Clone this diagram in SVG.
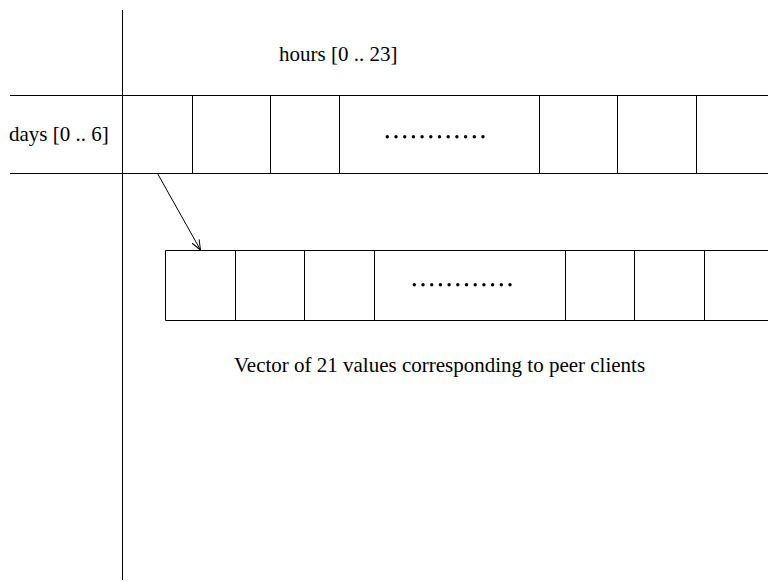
<svg xmlns="http://www.w3.org/2000/svg" width="768" height="581" viewBox="0 0 768 581">
  <defs>
    <style>
      .ln { stroke: #000; stroke-width: 1; fill: none; }
      .txt { font-family: "Liberation Serif", "Times New Roman", serif; font-size: 21px; fill: #000; }
    </style>
    <marker id="open-arrow" markerWidth="12" markerHeight="12" refX="11" refY="6" orient="auto" markerUnits="userSpaceOnUse">
      <path d="M1,2 L11,6 L1,10" fill="none" stroke="#000" stroke-width="1"/>
    </marker>
  </defs>
  <rect width="768" height="581" fill="#fff"/>

  <!-- axis -->
  <g id="axis">
    <line class="ln" x1="122.5" y1="10" x2="122.5" y2="580"/>
    <line class="ln" x1="17" y1="173.5" x2="27" y2="173.5"/>
  </g>

  <g id="hours-label">
    <text class="txt" x="279" y="61">hours [0 .. 23]</text>
  </g>

  <g id="days-label">
    <text class="txt" x="9" y="141">days [0 .. 6]</text>
  </g>

  <!-- day x hour table row -->
  <g id="hour-row">
    <line class="ln" x1="10" y1="95.5" x2="768" y2="95.5"/>
    <line class="ln" x1="10" y1="173.5" x2="768" y2="173.5"/>
    <line class="ln" x1="192.5" y1="95.5" x2="192.5" y2="173.5"/>
    <line class="ln" x1="270.5" y1="95.5" x2="270.5" y2="173.5"/>
    <line class="ln" x1="339.5" y1="95.5" x2="339.5" y2="173.5"/>
    <line class="ln" x1="539.5" y1="95.5" x2="539.5" y2="173.5"/>
    <line class="ln" x1="617.5" y1="95.5" x2="617.5" y2="173.5"/>
    <line class="ln" x1="696.5" y1="95.5" x2="696.5" y2="173.5"/>
    <g fill="#000">
      <circle cx="387.3" cy="136.7" r="1.7"/><circle cx="396" cy="136.7" r="1.7"/>
      <circle cx="404.7" cy="136.7" r="1.7"/><circle cx="413.4" cy="136.7" r="1.7"/>
      <circle cx="422.1" cy="136.7" r="1.7"/><circle cx="430.8" cy="136.7" r="1.7"/>
      <circle cx="439.5" cy="136.7" r="1.7"/><circle cx="448.2" cy="136.7" r="1.7"/>
      <circle cx="456.9" cy="136.7" r="1.7"/><circle cx="465.6" cy="136.7" r="1.7"/>
      <circle cx="474.3" cy="136.7" r="1.7"/><circle cx="483" cy="136.7" r="1.7"/>
    </g>
  </g>

  <!-- peer-client vector -->
  <g id="peer-vector">
    <polyline class="ln" points="768,250.5 165.5,250.5 165.5,320.5 768,320.5"/>
    <line class="ln" x1="235.5" y1="250.5" x2="235.5" y2="320.5"/>
    <line class="ln" x1="304.5" y1="250.5" x2="304.5" y2="320.5"/>
    <line class="ln" x1="374.5" y1="250.5" x2="374.5" y2="320.5"/>
    <line class="ln" x1="565.5" y1="250.5" x2="565.5" y2="320.5"/>
    <line class="ln" x1="634.5" y1="250.5" x2="634.5" y2="320.5"/>
    <line class="ln" x1="704.5" y1="250.5" x2="704.5" y2="320.5"/>
    <g fill="#000">
      <circle cx="414.3" cy="284.7" r="1.7"/><circle cx="423" cy="284.7" r="1.7"/>
      <circle cx="431.7" cy="284.7" r="1.7"/><circle cx="440.4" cy="284.7" r="1.7"/>
      <circle cx="449.1" cy="284.7" r="1.7"/><circle cx="457.8" cy="284.7" r="1.7"/>
      <circle cx="466.5" cy="284.7" r="1.7"/><circle cx="475.2" cy="284.7" r="1.7"/>
      <circle cx="483.9" cy="284.7" r="1.7"/><circle cx="492.6" cy="284.7" r="1.7"/>
      <circle cx="501.3" cy="284.7" r="1.7"/><circle cx="510" cy="284.7" r="1.7"/>
    </g>
  </g>

  <g id="vector-caption">
    <text class="txt" x="234" y="372">Vector of 21 values corresponding to peer clients</text>
  </g>

  <g id="connectors">
    <line class="ln" x1="157.5" y1="173.5" x2="200.5" y2="250" marker-end="url(#open-arrow)"/>
  </g>
</svg>
